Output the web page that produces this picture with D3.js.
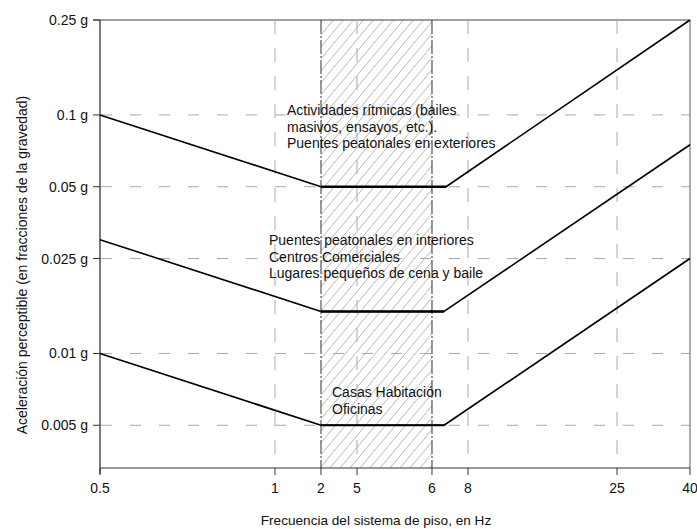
<!DOCTYPE html>
<html>
<head>
<meta charset="utf-8">
<script src="https://cdn.jsdelivr.net/npm/d3@7"></script>
<style>
  html, body { margin: 0; padding: 0; background: #fff; }
  svg { display: block; font-family: "Liberation Sans", Arial, sans-serif; }
</style>
</head>
<body>
<svg id="chart" width="697" height="529"></svg>
<script>
// ---- data ----
const xTicks = [0.5, 1, 2, 5, 6, 8, 25, 40];
const xTickLabels = ["0.5", "1", "2", "5", "6", "8", "25", "40"];
const yTicks = [0.25, 0.1, 0.05, 0.025, 0.01, 0.005];
const yTickLabels = ["0.25 g", "0.1 g", "0.05 g", "0.025 g", "0.01 g", "0.005 g"];
const bandRange = [2, 6];

const topFreq = [0.5, 2, 6.78, 40];
const topAccel = [0.1, 0.05, 0.05, 0.25];
const midFreq = [0.5, 2, 6.67, 40];
const midAccel = [0.03, 0.015, 0.015, 0.075];
const lowFreq = [0.5, 2, 6.67, 40];
const lowAccel = [0.01, 0.005, 0.005, 0.025];

const topLabel = ["Actividades rítmicas (bailes", "masivos, ensayos, etc.).", "Puentes peatonales en exteriores"];
const midLabel = ["Puentes peatonales en interiores", "Centros Comerciales", "Lugares pequeños de cena y baile"];
const lowLabel = ["Casas Habitación", "Oficinas"];

const xTitle = "Frecuencia del sistema de piso, en Hz";
const yTitle = "Aceleración perceptible (en fracciones de la gravedad)";

// ---- layout ----
const L = 100, R = 690, T = 20, B = 468;
const W = R - L;
const FS = 14;
// schematic (non-uniform) horizontal placement of the frequency ticks
const xFrac = [0, 0.2966, 0.3746, 0.4356, 0.5627, 0.6237, 0.8763, 1];

const svg = d3.select("#chart");
const x = d3.scaleLinear().domain(xTicks).range(xFrac.map(f => L + f * W));
const y = d3.scaleLog().domain([0.00331, 0.25]).range([B, T]);

// hatch pattern
const defs = svg.append("defs");
const pat = defs.append("pattern")
  .attr("id", "hatch").attr("patternUnits", "userSpaceOnUse")
  .attr("width", 10).attr("height", 12);
pat.append("line").attr("x1", -1).attr("y1", 13.2).attr("x2", 11).attr("y2", -1.2)
  .attr("stroke", "#a0a0a0").attr("stroke-width", 0.75);

svg.append("rect")
  .attr("x", x(bandRange[0])).attr("y", T)
  .attr("width", x(bandRange[1]) - x(bandRange[0]))
  .attr("height", B - T)
  .attr("fill", "url(#hatch)");

// horizontal grid
const grid = svg.append("g");
yTicks.forEach((v, i) => {
  const solid = i === 0;
  grid.append("line")
    .attr("x1", L - 7).attr("x2", R)
    .attr("y1", y(v)).attr("y2", y(v))
    .attr("stroke", solid ? "#808080" : "#a8a8a8")
    .attr("stroke-width", solid ? 1.3 : 1)
    .attr("stroke-dasharray", solid ? null : "0,8,11,10");
  grid.append("line")
    .attr("x1", L - 7).attr("x2", L)
    .attr("y1", y(v)).attr("y2", y(v))
    .attr("stroke", "#333").attr("stroke-width", 1);
});

// vertical grid
xTicks.forEach((v, i) => {
  if (i === 0) return;
  const isBand = v === bandRange[0] || v === bandRange[1];
  const isEdge = i === xTicks.length - 1;
  grid.append("line")
    .attr("x1", x(v)).attr("x2", x(v))
    .attr("y1", T).attr("y2", B)
    .attr("stroke", isEdge ? "#808080" : (isBand ? "#333" : "#a8a8a8"))
    .attr("stroke-width", isEdge ? 1.3 : 1)
    .attr("stroke-dasharray", isEdge ? null : (isBand ? "14,2,2,2" : "14,14"));
});

// axes
const axisG = svg.append("g");
axisG.append("line").attr("x1", L).attr("x2", L).attr("y1", T).attr("y2", B + 6)
  .attr("stroke", "#222").attr("stroke-width", 1.2);
axisG.append("line").attr("x1", L).attr("x2", R).attr("y1", B).attr("y2", B)
  .attr("stroke", "#333").attr("stroke-width", 1.2);
xTicks.forEach(v => {
  axisG.append("line").attr("x1", x(v)).attr("x2", x(v)).attr("y1", B).attr("y2", B + 7)
    .attr("stroke", "#333").attr("stroke-width", 1);
});

axisG.selectAll("text.xt").data(xTicks).enter().append("text")
  .attr("class", "xt")
  .attr("x", d => x(d)).attr("y", B + 25)
  .attr("text-anchor", "middle")
  .attr("font-size", FS).attr("fill", "#111")
  .text((d, i) => xTickLabels[i]);

axisG.selectAll("text.yt").data(yTicks).enter().append("text")
  .attr("class", "yt")
  .attr("x", L - 12).attr("y", d => y(d) + 5)
  .attr("text-anchor", "end")
  .attr("font-size", FS).attr("fill", "#111")
  .text((d, i) => yTickLabels[i]);

svg.append("text")
  .attr("x", 376).attr("y", 525)
  .attr("text-anchor", "middle").attr("font-size", 13.6).attr("fill", "#111")
  .text(xTitle);
svg.append("text")
  .attr("transform", `translate(27,${(T + B) / 2 + 21}) rotate(-90)`)
  .attr("text-anchor", "middle").attr("font-size", FS).attr("fill", "#111")
  .text(yTitle);

// curves
const line = d3.line().x(d => x(d[0])).y(d => y(d[1]));
function drawCurve(fr, ac, slopeW, flatW) {
  const pts = fr.map((f, i) => [f, ac[i]]);
  svg.append("path").datum(pts).attr("d", line)
    .attr("fill", "none").attr("stroke", "#000").attr("stroke-width", slopeW)
    .attr("stroke-linejoin", "round");
  svg.append("path").datum(pts.slice(1, 3)).attr("d", line)
    .attr("fill", "none").attr("stroke", "#000").attr("stroke-width", flatW);
}
drawCurve(topFreq, topAccel, 1.6, 2.6);
drawCurve(midFreq, midAccel, 1.6, 2.6);
drawCurve(lowFreq, lowAccel, 1.7, 2.0);

// annotations
function block(lines, px, py, lh) {
  const t = svg.append("text").attr("font-size", FS).attr("fill", "#111");
  lines.forEach((s, i) => {
    t.append("tspan").attr("x", px).attr("y", py + i * lh).text(s);
  });
}
block(topLabel, 287, 115, 16.5);
block(midLabel, 269, 245, 16.5);
block(lowLabel, 332, 397, 16.5);
</script>
</body>
</html>
